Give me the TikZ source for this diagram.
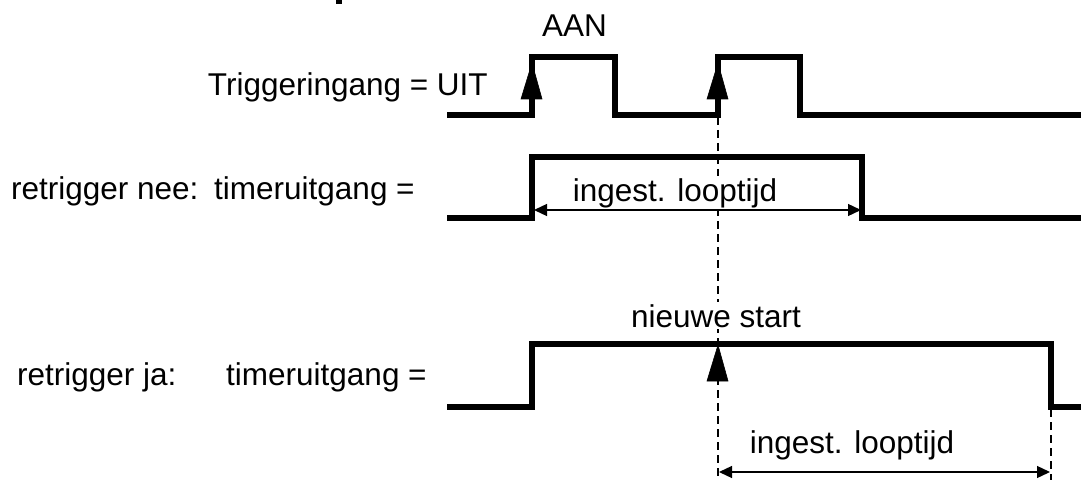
\documentclass[tikz,border=0pt]{standalone}
\usepackage{fontspec}
\setmainfont{Liberation Sans}
\usetikzlibrary{arrows.meta}
\begin{document}
\begin{tikzpicture}[x=1pt,y=-1pt,
  sig/.style={line width=5.5pt,line join=miter,line cap=butt},
  dim/.style={line width=1.3pt,{Triangle[length=13pt,width=12pt]}-{Triangle[length=13pt,width=12pt]}},
  guide/.style={line width=2pt,dash pattern=on 8pt off 5pt},
  tip/.style={fill=black,draw=black,line width=0.6pt},
  lbl/.style={inner sep=0pt,font=\fontsize{31.5}{37}\selectfont},
  mask/.style={lbl,fill=white,inner xsep=0pt,inner ysep=2pt}]
\useasboundingbox (0,0) rectangle (1081,481);
% cut-off fragment at top
\fill (336,0) rectangle (342,4);
% coordinates
\coordinate (d1) at (718,117);
\coordinate (d2) at (718,480);
\coordinate (e1) at (1051,409);
\coordinate (e2) at (1051,480);
\coordinate (a2l) at (534,210);
\coordinate (a2r) at (861,210);
\coordinate (a3l) at (719,472);
\coordinate (a3r) at (1050,472);
% dashed guides
\draw[guide] (d1) -- (d2);
\draw[guide] (e1) -- (e2);
% labels
\node[lbl,anchor=base west] (aan) at (542,37) {AAN};
\node[lbl,anchor=base east] (trig) at (488,96) {Triggeringang = UIT};
\node[lbl,anchor=base west] (nee) at (11,200) {retrigger nee:};
\node[lbl,anchor=base west] (out2) at (214,200) {timeruitgang =};
\node[lbl,anchor=base west] (ja) at (17,385) {retrigger ja:};
\node[lbl,anchor=base west] (out3) at (226,385) {timeruitgang =};
\node[mask,anchor=base] (new) at (716,327) {nieuwe start};
\node[mask,anchor=base] (t2) at (675,201) {ingest. looptijd};
\node[mask,anchor=base] (t3) at (852,453) {ingest. looptijd};
% signals
\draw[sig] (447,115) -- (532,115) -- (532,57) -- (615,57) -- (615,115) -- (718,115) -- (718,57) -- (800,57) -- (800,115) -- (1081,115);
\draw[sig] (447,218) -- (532,218) -- (532,157) -- (862,157) -- (862,218) -- (1081,218);
\draw[sig] (447,407) -- (532,407) -- (532,344) -- (1051,344) -- (1051,407) -- (1081,407);
% trigger arrowheads
\draw[tip] (532,63) -- (542,99) -- (521,99) -- cycle;
\draw[tip] (718,63) -- (728,99) -- (707,99) -- cycle;
\draw[tip] (718,345) -- (728,381) -- (707,381) -- cycle;
% dimension arrows
\draw[dim] (a2l) -- (a2r);
\draw[dim] (a3l) -- (a3r);
\end{tikzpicture}
\end{document}
